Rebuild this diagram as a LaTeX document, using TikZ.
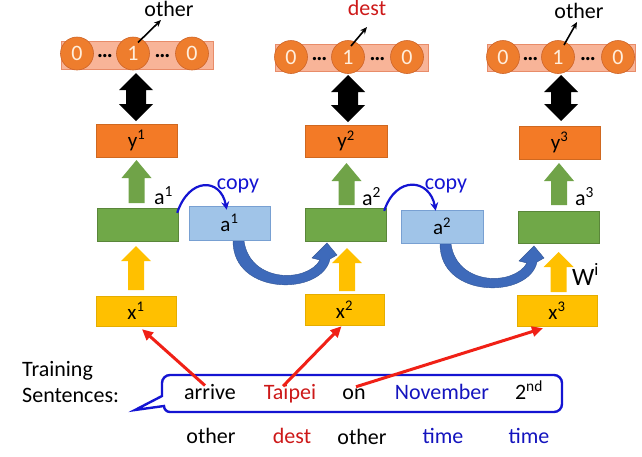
\documentclass[tikz,border=0pt]{standalone}
\usepackage{fontspec}
\setmainfont{Carlito}
\usetikzlibrary{calc,arrows.meta}
\definecolor{boxorange}{RGB}{243,122,38}
\definecolor{barfill}{RGB}{248,180,152}
\definecolor{barline}{RGB}{232,140,105}
\definecolor{dotfill}{RGB}{238,125,45}
\definecolor{dotline}{RGB}{205,100,40}
\definecolor{digit}{RGB}{255,238,220}
\definecolor{boxgreen}{RGB}{112,168,72}
\definecolor{arrgreen}{RGB}{112,163,72}
\definecolor{lightblue}{RGB}{160,196,232}
\definecolor{lightblueline}{RGB}{120,160,210}
\definecolor{boxyellow}{RGB}{255,192,0}
\definecolor{curveblue}{RGB}{62,106,186}
\definecolor{redarrow}{RGB}{240,32,22}
\definecolor{textblue}{RGB}{20,20,190}
\definecolor{copyblue}{RGB}{20,20,210}
\definecolor{textred}{RGB}{205,25,25}
\newcommand{\upblock}[6]{\fill[#1] (#2,#3) -- ({#2+#6},{#3+#5}) -- ({#2+8},{#3+#5}) -- ({#2+8},#4) -- ({#2-8},#4) -- ({#2-8},{#3+#5}) -- ({#2-#6},{#3+#5}) -- cycle;}
\newcommand{\dblblock}[3]{\fill[black] (#1,#2) -- ({#1+17},{#2+17}) -- ({#1+10},{#2+17}) -- ({#1+10},{#3-17}) -- ({#1+17},{#3-17}) -- (#1,#3) -- ({#1-17},{#3-17}) -- ({#1-10},{#3-17}) -- ({#1-10},{#2+17}) -- ({#1-17},{#2+17}) -- cycle;}
\newcommand{\bigcurve}[2]{\begin{scope}[shift={(#1,#2)}]
\fill[curveblue, draw=curveblue!80!black, line width=0.4pt] (233,241) .. controls (233,296) and (322,296) .. (330,259) -- (337,255) -- (327,243) -- (312,258) -- (320,260) .. controls (307,283) and (250,283) .. (244,241) -- cycle;
\end{scope}}
\begin{document}
\begin{tikzpicture}[x=1pt,y=-1pt,
  lbl/.style={font=\fontsize{22}{26}\selectfont, inner sep=0pt},
  boxlbl/.style={font=\fontsize{21}{25}\selectfont, inner sep=0pt, anchor=center},
  ybox/.style={boxlbl, fill=boxorange, draw=boxorange!85!black, line width=0.4pt},
  gbox/.style={boxlbl, fill=boxgreen, draw=boxgreen!80!black, line width=0.4pt},
  abox/.style={boxlbl, fill=lightblue, draw=lightblueline, line width=0.6pt},
  xbox/.style={boxlbl, fill=boxyellow, draw=boxyellow!90!black, line width=0.4pt},
  bar/.style={fill=barfill, draw=barline, line width=0.6pt, inner sep=0pt},
  onehot/.style={circle, fill=dotfill, draw=dotline, line width=0.6pt, minimum size=33pt, inner sep=0pt, text=digit, font=\fontsize{22}{26}\selectfont},
  dotsl/.style={font=\fontsize{22}{26}\selectfont\bfseries, inner sep=0pt},
  pointer/.style={-{Stealth[length=7pt,width=6pt]}, line width=1.6pt, black},
  copyarr/.style={-{Stealth[length=8pt,width=8pt]}, line width=2.2pt, copyblue},
  redarr/.style={-{Triangle[length=11pt,width=10pt]}, line width=3pt, redarrow},
  bubble/.style={draw=copyblue, line width=2.4pt, fill=white, line join=miter}
]
\useasboundingbox (0,0) rectangle (642,456);

% ---------- one-hot bars ----------
\node[bar, minimum width=152pt, minimum height=28pt] (b1) at (137,55) {};
\node[bar, minimum width=153pt, minimum height=27pt] (b2) at (351.5,57.5) {};
\node[bar, minimum width=148pt, minimum height=27pt] (b3) at (561,57.5) {};

\node[onehot] (c11) at (77,53.5) {0};
\node[onehot] (c12) at (133,53.5) {1};
\node[onehot] (c13) at (192,53.5) {0};
\node[dotsl] (d11) at (105,56) {…};
\node[dotsl] (d12) at (162.5,56) {…};

\node[onehot] (c21) at (291,57) {0};
\node[onehot] (c22) at (348,57) {1};
\node[onehot] (c23) at (407,57) {0};
\node[dotsl] (d21) at (319.5,59) {…};
\node[dotsl] (d22) at (377.5,59) {…};

\node[onehot] (c31) at (503,57) {0};
\node[onehot] (c32) at (558,57) {1};
\node[onehot] (c33) at (618,57) {0};
\node[dotsl] (d31) at (530.5,59) {…};
\node[dotsl] (d32) at (588,59) {…};

% ---------- top labels ----------
\node[lbl, anchor=base] (t1) at (169,16) {other};
\node[lbl, anchor=base, text=textred] (t2) at (367,15) {dest};
\node[lbl, anchor=base] (t3) at (579,18) {other};
\coordinate (p1) at (161,20);
\coordinate (p2) at (367,27);
\coordinate (p3) at (577,22);
\draw[pointer] ($(c12.center)+(5,-11)$) -- (p1);
\draw[pointer] ($(c22.center)+(3,-11)$) -- (p2);
\draw[pointer] ($(c32.center)+(6,-12)$) -- (p3);

% ---------- double arrows ----------
\dblblock{136}{73}{121}
\dblblock{348}{75}{122}
\dblblock{561}{75}{121}

% ---------- y boxes ----------
\node[ybox, minimum width=81pt, minimum height=33pt] (y1) at (136.5,140.5) {y\textsuperscript{1}};
\node[ybox, minimum width=82pt, minimum height=32pt] (y2) at (346,141) {y\textsuperscript{2}};
\node[ybox, minimum width=81pt, minimum height=33pt] (y3) at (559.5,142.5) {y\textsuperscript{3}};

% ---------- green arrows ----------
\upblock{arrgreen}{136.5}{160}{203}{18}{15}
\upblock{arrgreen}{346.5}{163}{205}{18}{15}
\upblock{arrgreen}{559}{163}{205}{18}{15}

% ---------- big curved arrows ----------
\bigcurve{0}{0}
\bigcurve{207}{3}

% ---------- green boxes ----------
\node[gbox, minimum width=81pt, minimum height=33pt] (g1) at (137.5,224.5) {};
\node[gbox, minimum width=81pt, minimum height=33pt] (g2) at (345.5,224.5) {};
\node[gbox, minimum width=81pt, minimum height=32pt] (g3) at (558.5,227) {};

\node[lbl, anchor=base west] (la1) at (154,204) {a\textsuperscript{1}};
\node[lbl, anchor=base west] (la2) at (362,205) {a\textsuperscript{2}};
\node[lbl, anchor=base west] (la3) at (575,205) {a\textsuperscript{3}};

% ---------- copied memory boxes ----------
\node[abox, minimum width=81pt, minimum height=34pt] (ab1) at (229.5,223) {a\textsuperscript{1}};
\node[abox, minimum width=82pt, minimum height=33pt] (ab2) at (442,226.5) {a\textsuperscript{2}};

\node[lbl, anchor=base, text=copyblue] (cp1) at (238,189) {copy};
\node[lbl, anchor=base, text=copyblue] (cp2) at (446,189) {copy};
\draw[copyarr] ($(g1.north east)+(-1,5)$) .. controls +(12,-36) and +(-6,-32) .. ($(ab1.north west)+(38,4)$);
\draw[copyarr] ($(g2.north east)+(-2,3)$) .. controls +(12,-36) and +(-6,-32) .. ($(ab2.north west)+(35,1)$);

% ---------- yellow arrows ----------
\upblock{boxyellow}{136}{246}{290}{15}{15}
\upblock{boxyellow}{347}{248}{291}{15}{15}
\upblock{boxyellow}{558.5}{252}{292}{15}{15}

\node[anchor=base west, inner sep=0pt, font=\fontsize{25}{30}\selectfont] (wi) at (572,285) {W\textsuperscript{i}};

% ---------- x boxes ----------
\node[xbox, minimum width=80pt, minimum height=30pt] (x1) at (136,311) {x\textsuperscript{1}};
\node[xbox, minimum width=79pt, minimum height=31pt] (x2) at (344.5,309.5) {x\textsuperscript{2}};
\node[xbox, minimum width=80pt, minimum height=31pt] (x3) at (557,310.5) {x\textsuperscript{3}};

% ---------- training sentence ----------
\node[lbl, anchor=base west] (tr1) at (22,376) {Training};
\node[lbl, anchor=base west] (tr2) at (22,402) {Sentences:};

\draw[bubble] (162,396) -- (162,383) arc[start angle=180, end angle=270, radius=8] -- (554,375) arc[start angle=270, end angle=360, radius=8] -- (562,404) arc[start angle=0, end angle=90, radius=8] -- (170,412) arc[start angle=90, end angle=180, radius=6] -- (135,410) -- cycle;

\node[lbl, anchor=base] (w1) at (210,399) {arrive};
\node[lbl, anchor=base, text=textred] (w2) at (290,399) {Taipei};
\node[lbl, anchor=base] (w3) at (354,399) {on};
\node[lbl, anchor=base, text=textblue] (w4) at (442,399) {November};
\node[lbl, anchor=base] (w5) at (529,399) {2\textsuperscript{nd}};

\node[lbl, anchor=base] (s1) at (211,443) {other};
\node[lbl, anchor=base, text=textred] (s2) at (292,443) {dest};
\node[lbl, anchor=base] (s3) at (362,444) {other};
\node[lbl, anchor=base, text=textblue] (s4) at (443,443) {time};
\node[lbl, anchor=base, text=textblue] (s5) at (529,443) {time};

% ---------- red arrows ----------
\draw[redarr] ($(w1.center)+(-5,-6)$) -- ($(x1.south)+(6,3)$);
\draw[redarr] ($(w2.center)+(-7,-7)$) -- ($(x2.south)+(-3,1)$);
\draw[redarr] ($(w3.center)+(2,-7)$) -- ($(x3.south)+(-14,2)$);
\end{tikzpicture}
\end{document}
